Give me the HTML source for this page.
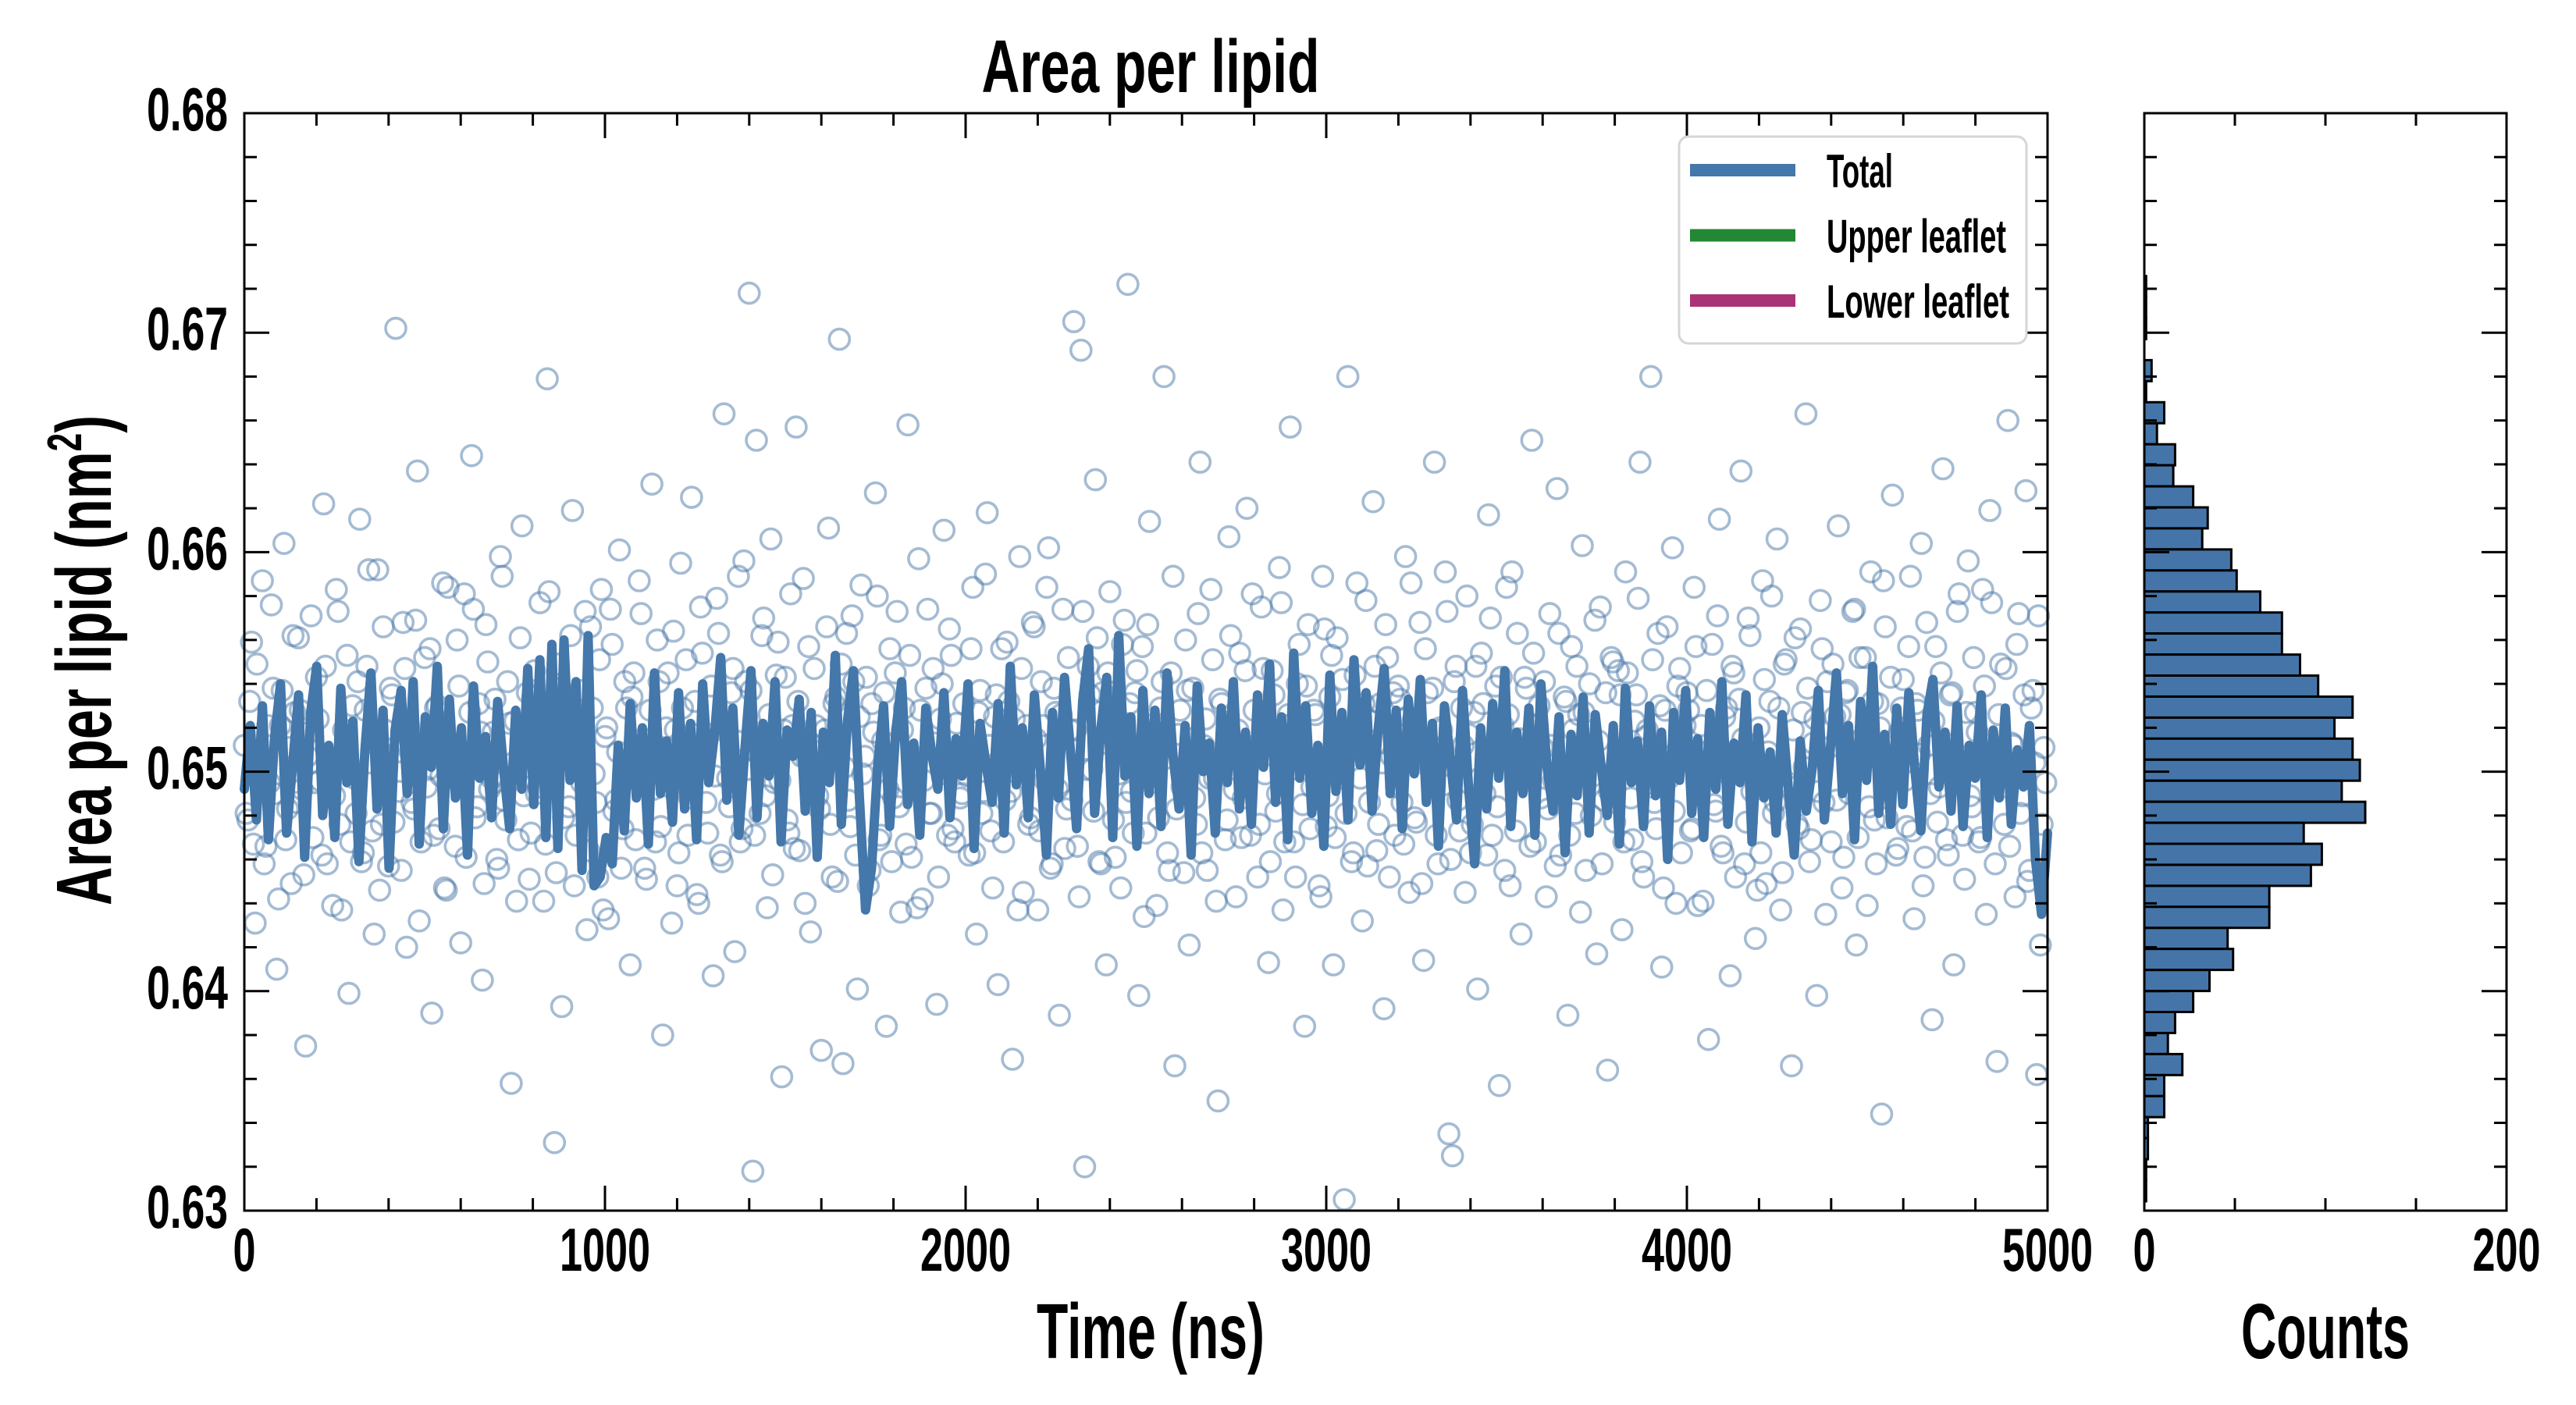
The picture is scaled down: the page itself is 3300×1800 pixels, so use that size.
<!DOCTYPE html>
<html><head><meta charset="utf-8"><style>
html,body{margin:0;padding:0;background:#fff;}
svg{display:block;}
text{font-family:"Liberation Sans Narrow","Liberation Sans",sans-serif;font-weight:bold;fill:#000;}
</style></head><body>
<svg id="chart" width="3300" height="1800" viewBox="0 0 3300 1800" xmlns="http://www.w3.org/2000/svg">
<g id="main"></g>
<g id="hist"></g>
</svg>
<script>
// ---- data ----
const scatterAplE4 = [
6512,6478,6559,6431,6502,6587,6466,6495,6538,6410,6521,6604,6483,6449,6527,6561,6492,6375,6518,6470,
6543,6496,6622,6458,6505,6489,6573,6437,6511,6399,6530,6481,6615,6463,6548,6504,6426,6592,6476,6519,
6457,6535,6702,6491,6568,6420,6509,6483,6637,6468,6552,6501,6390,6529,6474,6586,6446,6513,6497,6560,
6422,6581,6506,6644,6479,6531,6405,6567,6492,6518,6460,6598,6487,6541,6358,6523,6469,6612,6502,6451,
6534,6490,6577,6441,6679,6508,6331,6549,6393,6526,6484,6619,6471,6537,6505,6428,6566,6499,6452,6583,
6516,6433,6558,6487,6601,6474,6529,6412,6545,6498,6572,6456,6510,6631,6468,6541,6380,6520,6493,6564,
6448,6595,6503,6471,6625,6532,6440,6554,6486,6517,6407,6579,6462,6663,6497,6536,6418,6589,6474,6541,
6718,6318,6651,6481,6570,6438,6606,6495,6559,6361,6543,6472,6521,6657,6464,6588,6506,6427,6547,6489,
6373,6519,6611,6452,6534,6697,6367,6563,6475,6541,6401,6585,6507,6448,6531,6627,6469,6514,6384,6556,
6488,6573,6436,6529,6658,6461,6502,6597,6442,6538,6481,6547,6394,6524,6610,6471,6553,6468,6502,6490,
6509,6462,6584,6426,6537,6491,6618,6473,6525,6403,6556,6487,6532,6369,6514,6598,6445,6521,6479,6566,
6437,6541,6496,6602,6458,6527,6389,6574,6483,6519,6705,6466,6692,6320,6548,6501,6633,6459,6536,6412,
6582,6478,6523,6447,6569,6722,6491,6536,6398,6557,6472,6614,6504,6439,6529,6680,6463,6545,6366,6517,
6493,6560,6421,6538,6476,6641,6512,6455,6583,6497,6350,6531,6469,6607,6514,6443,6554,6488,6620,6471,
6528,6452,6575,6499,6413,6546,6482,6593,6437,6521,6657,6468,6540,6505,6384,6567,6493,6526,6448,6589,
6475,6534,6412,6561,6497,6305,6680,6459,6544,6518,6432,6578,6486,6623,6464,6531,6392,6552,6507,6471,
6539,6486,6598,6445,6523,6477,6568,6414,6536,6502,6641,6458,6519,6591,6335,6325,6548,6473,6512,6580,
6463,6527,6401,6554,6490,6617,6471,6539,6357,6521,6584,6448,6509,6563,6426,6543,6496,6651,6468,6530,
6511,6443,6572,6496,6629,6462,6534,6389,6557,6481,6526,6603,6455,6540,6498,6417,6575,6487,6364,6552,
6477,6546,6428,6591,6503,6469,6535,6641,6452,6519,6680,6486,6563,6411,6528,6497,6602,6440,6547,6509,
6536,6473,6584,6439,6521,6496,6378,6558,6482,6615,6463,6529,6407,6545,6501,6637,6458,6570,6491,6424,
6520,6587,6449,6532,6481,6606,6437,6549,6495,6366,6561,6474,6527,6663,6459,6513,6398,6578,6486,6541,
6468,6525,6612,6447,6536,6490,6573,6421,6552,6505,6439,6591,6478,6531,6344,6566,6497,6626,6462,6518,
6542,6475,6589,6433,6528,6604,6461,6512,6387,6557,6493,6638,6469,6535,6412,6573,6507,6451,6596,6484,
6527,6468,6583,6435,6619,6502,6368,6549,6476,6660,6513,6443,6572,6489,6628,6455,6537,6362,6421,6511];
const scatterAplE4b = [
6481,6532,6467,6549,6503,6458,6521,6576,6490,6442,6537,6469,6511,6562,6486,6528,6453,6507,6571,6495,
6524,6462,6548,6501,6439,6583,6476,6519,6553,6468,6497,6541,6459,6528,6592,6473,6514,6446,6566,6502,
6538,6477,6509,6455,6547,6521,6486,6569,6432,6515,6493,6556,6471,6530,6498,6447,6584,6512,6466,6539,
6505,6461,6527,6574,6484,6518,6449,6550,6497,6533,6456,6589,6478,6522,6504,6441,6561,6489,6536,6472,
6546,6493,6516,6467,6582,6503,6454,6538,6479,6527,6562,6448,6511,6495,6573,6464,6529,6486,6551,6437,
6520,6574,6482,6509,6456,6541,6497,6534,6469,6587,6515,6451,6528,6492,6560,6475,6503,6545,6431,6519,
6463,6529,6551,6488,6517,6444,6575,6506,6472,6539,6498,6563,6459,6523,6484,6547,6514,6468,6596,6501,
6537,6471,6508,6562,6489,6526,6453,6544,6496,6519,6478,6581,6465,6532,6507,6440,6557,6494,6521,6483,
6510,6566,6476,6531,6450,6549,6502,6487,6571,6462,6525,6499,6543,6455,6518,6580,6471,6536,6492,6459,
6545,6484,6519,6467,6553,6507,6438,6528,6496,6574,6481,6513,6452,6540,6499,6565,6474,6522,6488,6531,
6498,6556,6463,6527,6481,6590,6512,6447,6535,6504,6468,6559,6491,6524,6437,6547,6509,6476,6568,6515,
6473,6521,6584,6456,6538,6492,6526,6465,6552,6487,6519,6443,6573,6501,6535,6482,6561,6458,6513,6545,
6527,6461,6499,6558,6486,6531,6472,6546,6510,6434,6567,6495,6522,6479,6541,6506,6455,6589,6483,6528,
6454,6537,6515,6488,6572,6463,6524,6497,6551,6441,6533,6508,6478,6562,6492,6519,6470,6546,6503,6581,
6512,6476,6547,6521,6459,6535,6490,6577,6468,6526,6501,6452,6558,6485,6539,6474,6528,6496,6443,6565,
6489,6553,6470,6518,6542,6481,6509,6463,6586,6497,6531,6457,6523,6548,6476,6504,6567,6452,6536,6493,
6533,6467,6525,6586,6479,6513,6449,6556,6502,6538,6471,6520,6494,6573,6460,6541,6487,6529,6445,6517,
6476,6548,6497,6531,6462,6570,6508,6484,6543,6455,6526,6591,6473,6515,6499,6538,6466,6554,6521,6488,
6541,6483,6512,6457,6563,6495,6532,6471,6519,6548,6436,6527,6505,6480,6569,6514,6458,6536,6491,6550,
6502,6535,6468,6545,6488,6523,6579,6459,6516,6493,6551,6474,6530,6447,6566,6507,6482,6539,6463,6521,
6528,6474,6557,6496,6441,6537,6510,6485,6571,6466,6525,6499,6548,6452,6533,6515,6477,6562,6501,6446,
6463,6542,6509,6580,6486,6529,6454,6551,6493,6519,6476,6565,6502,6538,6469,6524,6491,6556,6435,6511,
6549,6487,6526,6461,6537,6498,6574,6470,6515,6552,6484,6532,6458,6520,6587,6479,6543,6506,6465,6529,
6496,6557,6473,6531,6508,6448,6568,6490,6523,6477,6545,6513,6462,6536,6499,6581,6471,6527,6489,6552,
6518,6470,6539,6502,6577,6458,6526,6493,6547,6466,6512,6558,6481,6535,6450,6529,6504,6571,6476,6495];
const lineAplE4 = [
6492,6521,6478,6530,6469,6515,6540,6472,6503,6535,6461,6527,6548,6480,6512,6470,6538,6495,6523,6459,
6510,6545,6483,6528,6456,6519,6537,6490,6541,6467,6525,6502,6548,6474,6533,6488,6520,6462,6539,6497,
6516,6479,6532,6501,6474,6528,6492,6547,6485,6551,6470,6558,6465,6560,6496,6541,6455,6562,6448,6452,
6470,6458,6512,6473,6531,6488,6520,6467,6545,6490,6514,6477,6536,6483,6522,6469,6540,6495,6518,6552,
6487,6529,6471,6510,6546,6479,6522,6498,6541,6468,6519,6507,6533,6482,6527,6461,6518,6495,6553,6476,
6523,6546,6488,6437,6456,6502,6530,6475,6518,6541,6485,6513,6471,6529,6508,6492,6536,6479,6515,6498,
6540,6465,6522,6503,6486,6531,6472,6548,6494,6520,6479,6535,6501,6462,6527,6488,6543,6509,6474,6532,
6556,6481,6519,6543,6470,6562,6498,6525,6466,6537,6490,6528,6475,6545,6507,6483,6521,6462,6539,6500,
6513,6472,6529,6495,6541,6483,6518,6476,6535,6502,6549,6486,6525,6469,6554,6497,6530,6481,6512,6466,
6544,6491,6527,6478,6551,6503,6536,6482,6519,6547,6490,6528,6474,6533,6499,6542,6486,6522,6466,6530,
6505,6478,6537,6493,6458,6520,6483,6531,6497,6546,6475,6518,6490,6529,6471,6540,6502,6482,6525,6463,
6517,6489,6534,6472,6526,6502,6480,6521,6467,6538,6495,6514,6475,6530,6489,6518,6460,6527,6496,6537,
6481,6515,6470,6527,6492,6541,6476,6513,6495,6535,6468,6520,6488,6509,6472,6526,6493,6462,6514,6482,
6502,6537,6478,6511,6545,6490,6521,6469,6532,6496,6548,6481,6517,6476,6529,6485,6536,6501,6473,6526,
6542,6493,6518,6482,6530,6475,6512,6497,6535,6470,6519,6488,6529,6476,6510,6493,6521,6460,6435,6472];
const histCounts = [1,1,1,0,4,1,11,7,17,16,27,35,32,48,51,64,76,76,86,96,115,105,115,119,109,122,88,98,92,69,69,46,49,36,27,17,13,21,11,11,2,2,1,1];
const histTopCenter = 0.6721;
const histBinWidth = 0.000958;
const yTickLabels = ["0.63","0.64","0.65","0.66","0.67","0.68"];
const xTickLabels = ["0","1000","2000","3000","4000","5000"];
const countTickLabels = ["0","200"];
const legendLabels = ["Total","Upper leaflet","Lower leaflet"];
const legendColors = ["#4477aa","#228833","#aa3377"];

// ---- layout ----
const NS = "http://www.w3.org/2000/svg";
const P = {l:313, r:2623, t:145, b:1551};
const H = {l:2747, r:3211};
const yMin = 0.63, yMax = 0.68, tMax = 5000, cMax = 200;
const yS = v => P.b - (v - yMin) / (yMax - yMin) * (P.b - P.t);
const xS = t => P.l + t / tMax * (P.r - P.l);
const cS = c => H.l + c / cMax * (H.r - H.l);

function mk(parent, tag, attrs, txt) {
  const e = document.createElementNS(NS, tag);
  for (const k in attrs) e.setAttribute(k, attrs[k]);
  if (txt !== undefined) e.textContent = txt;
  parent.appendChild(e);
  return e;
}
const main = document.getElementById('main');
const hist = document.getElementById('hist');

// scatter
const sg = mk(main, 'g', {fill:'none', stroke:'#4a78a8', 'stroke-width':3.6, 'stroke-opacity':0.5});


const dtS = tMax / scatterAplE4.length;
scatterAplE4.forEach((v, i) => {
  const c = mk(sg, 'circle', {cx: xS(i * dtS).toFixed(1), cy: yS(v / 1e4).toFixed(1), r: 13});
  
  
});
const dtS2 = tMax / scatterAplE4b.length;
scatterAplE4b.forEach((v, i) => {
  const c = mk(sg, 'circle', {cx: xS(i * dtS2 + dtS2 / 2).toFixed(1), cy: yS(v / 1e4).toFixed(1), r: 13});
  
  
});

// line
const dtL = tMax / (lineAplE4.length - 1);
const pts = lineAplE4.map((v, i) => xS(i * dtL).toFixed(1) + ',' + yS(v / 1e4).toFixed(1)).join(' ');
const pl = mk(main, 'polyline', {points: pts, fill:'none', stroke:'#4477aa', 'stroke-width':12, 'stroke-linejoin':'round', 'stroke-linecap':'round'});



// axes frame + ticks main
const ax = mk(main, 'g', {stroke:'#000', 'stroke-width':3});


mk(ax, 'rect', {x:P.l, y:P.t, width:P.r - P.l, height:P.b - P.t, fill:'none'});
for (let k = 0; k <= 25; k++) {
  const v = yMin + k * 0.002, y = yS(v), len = k % 5 === 0 ? 32 : 16;
  mk(ax, 'line', {x1:P.l, y1:y, x2:P.l + len, y2:y});
  mk(ax, 'line', {x1:P.r, y1:y, x2:P.r - len, y2:y});
}
for (let k = 0; k <= 25; k++) {
  const x = xS(k * 200), len = k % 5 === 0 ? 32 : 16;
  mk(ax, 'line', {x1:x, y1:P.b, x2:x, y2:P.b - len});
  mk(ax, 'line', {x1:x, y1:P.t, x2:x, y2:P.t + len});
}
yTickLabels.forEach(s => {
  const t = mk(main, 'text', {x:292, y:yS(parseFloat(s)) + 22, 'text-anchor':'end', 'font-size':78, textLength:104, lengthAdjust:'spacingAndGlyphs'}, s);
  
  
});
xTickLabels.forEach(s => {
  const w = s.length * 29;
  const t = mk(main, 'text', {x:xS(parseFloat(s)), y:1628, 'text-anchor':'middle', 'font-size':78, textLength:w, lengthAdjust:'spacingAndGlyphs'}, s);
  
  
});
let t;
t = mk(main, 'text', {x:1474, y:118, 'text-anchor':'middle', 'font-size':96, textLength:433, lengthAdjust:'spacingAndGlyphs'}, 'Area per lipid');


t = mk(main, 'text', {x:1474, y:1740, 'text-anchor':'middle', 'font-size':100, textLength:292, lengthAdjust:'spacingAndGlyphs'}, 'Time (ns)');


t = mk(main, 'text', {x:0, y:0, 'text-anchor':'middle', 'font-size':100, transform:'translate(142,846) rotate(-90)', textLength:628, lengthAdjust:'spacingAndGlyphs'});


t.appendChild(document.createTextNode('Area per lipid (nm'));
mk(t, 'tspan', {'font-size':62, dy:-38}, '2');
mk(t, 'tspan', {dy:38}, ')');

// legend
const lg = mk(main, 'g', {});


mk(lg, 'rect', {x:2151, y:175, width:445, height:265, rx:12, fill:'#fff', stroke:'#d6d6d6', 'stroke-width':3});
legendLabels.forEach((s, i) => {
  const y = 218 + i * 83.5;
  const ln = mk(lg, 'line', {x1:2165, y1:y, x2:2300, y2:y, stroke:legendColors[i], 'stroke-width':16});
  
  
  const w = [85, 230, 234][i];
  const tx = mk(lg, 'text', {x:2340, y:y + 22, 'font-size':60, textLength:w, lengthAdjust:'spacingAndGlyphs'}, s);
  
  
});

// histogram
histCounts.forEach((c, i) => {
  if (c <= 0) return;
  const ctr = histTopCenter - i * histBinWidth;
  const y1 = yS(ctr + histBinWidth / 2), y2 = yS(ctr - histBinWidth / 2);
  const r = mk(hist, 'rect', {x:H.l, y:y1.toFixed(1), width:(cS(c) - H.l).toFixed(1), height:(y2 - y1).toFixed(1), fill:'#4575a8', stroke:'#000', 'stroke-width':3});
  
  
});
const hx = mk(hist, 'g', {stroke:'#000', 'stroke-width':3});


mk(hx, 'rect', {x:H.l, y:P.t, width:H.r - H.l, height:P.b - P.t, fill:'none'});
for (let k = 0; k <= 25; k++) {
  const y = yS(yMin + k * 0.002), len = k % 5 === 0 ? 32 : 16;
  mk(hx, 'line', {x1:H.l, y1:y, x2:H.l + len, y2:y});
  mk(hx, 'line', {x1:H.r, y1:y, x2:H.r - len, y2:y});
}
for (let k = 0; k <= 4; k++) {
  const x = cS(k * 50);
  mk(hx, 'line', {x1:x, y1:P.b, x2:x, y2:P.b - 16});
  mk(hx, 'line', {x1:x, y1:P.t, x2:x, y2:P.t + 16});
}
countTickLabels.forEach(s => {
  const tx = mk(hist, 'text', {x:cS(parseFloat(s)), y:1628, 'text-anchor':'middle', 'font-size':78, textLength:s.length * 29, lengthAdjust:'spacingAndGlyphs'}, s);
  
  
});
t = mk(hist, 'text', {x:2979, y:1740, 'text-anchor':'middle', 'font-size':100, textLength:216, lengthAdjust:'spacingAndGlyphs'}, 'Counts');


</script>
</body></html>
